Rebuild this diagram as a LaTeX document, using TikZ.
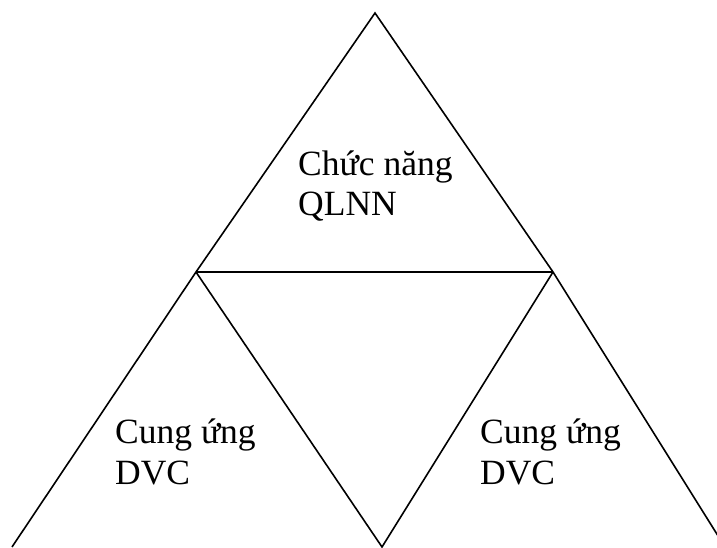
\documentclass[tikz,border=0pt]{standalone}
\usepackage{fontspec}
\setmainfont{Liberation Serif}
\begin{document}
\begin{tikzpicture}[x=1pt,y=1pt,
  edge/.style={line width=1.6pt, line join=miter},
  label/.style={anchor=base west, inner sep=0pt, align=left,
    font=\fontsize{35.5}{41}\selectfont}]
\useasboundingbox (0,0) rectangle (717,547);
% corner points of the three sub-triangles
\coordinate (A)  at (375,534);
\coordinate (L)  at (196,275);
\coordinate (R)  at (553,275);
\coordinate (BL) at (12,0);
\coordinate (BM) at (382,0);
\coordinate (BR) at (725,0);
% outer edges
\draw[edge] (BL) -- (L) -- (A) -- (R) -- (BR);
% middle bar and inner edges
\draw[edge] (L) -- (R);
\draw[edge] (L) -- (BM) -- (R);
% labels (anchored at the baseline of their last line)
\node[label] (top)   at (298,331) {Chức năng\\QLNN};
\node[label] (left)  at (115,63) {Cung ứng\\DVC};
\node[label] (right) at (480,63) {Cung ứng\\DVC};
\end{tikzpicture}
\end{document}
